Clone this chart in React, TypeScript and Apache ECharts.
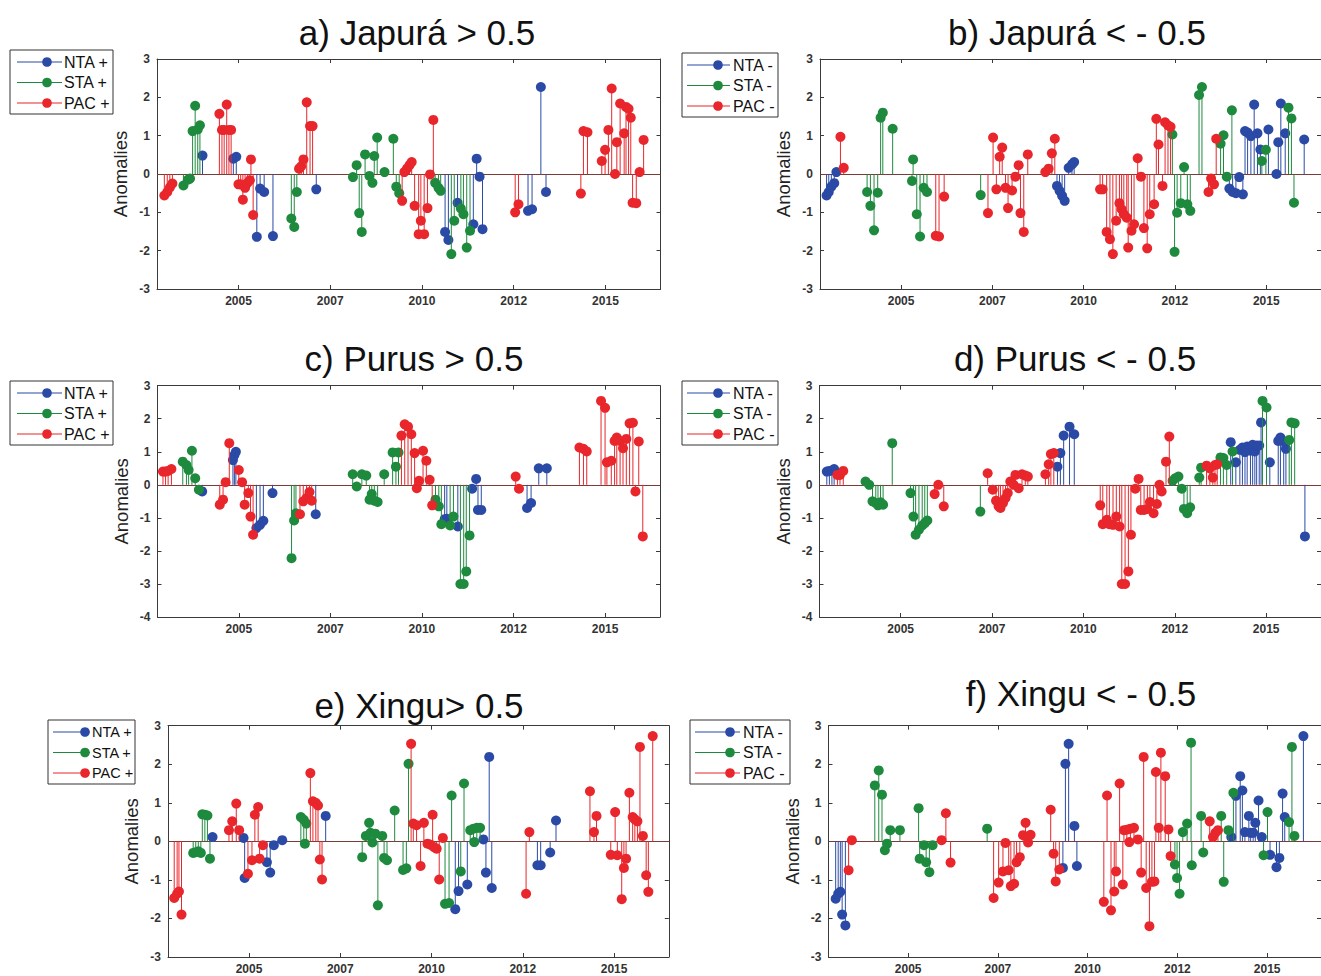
import React, { useEffect, useRef } from "react";
import * as echarts from "echarts";

type Pt = [number, number];

// x range shared by every panel (decimal years), ticks every 2.5 years
const X_MIN = 2002.78;
const X_MAX = 2016.5;
const X_TICKS = [2005, 2007.5, 2010, 2012.5, 2015];

const COLORS = { NTA: "#2a4aa6", STA: "#1e8a3e", PAC: "#e8262b" };
const BASELINE = "#7a3c37";

// a) Japurá > 0.5
const aNTA: Pt[] = [[2004.02,0.48],[2004.86,0.40],[2004.94,0.45],[2005.50,-1.64],[2005.59,-0.38],[2005.70,-0.47],[2005.94,-1.62],[2007.12,-0.40],[2010.63,-1.51],[2010.72,-1.72],[2010.97,-0.75],[2011.40,-1.31],[2011.49,0.40],[2011.57,-0.07],[2011.65,-1.44],[2012.89,-0.96],[2013.00,-0.92],[2013.24,2.27],[2013.38,-0.47]];
const aSTA: Pt[] = [[2003.50,-0.30],[2003.62,-0.15],[2003.68,-0.12],[2003.75,1.12],[2003.82,1.78],[2003.89,1.16],[2003.95,1.27],[2006.44,-1.16],[2006.52,-1.38],[2006.59,-0.47],[2008.12,-0.08],[2008.22,0.23],[2008.29,-1.02],[2008.36,-1.51],[2008.45,0.51],[2008.57,-0.05],[2008.65,-0.23],[2008.70,0.47],[2008.78,0.95],[2008.98,0.05],[2009.22,0.92],[2009.30,-0.33],[2009.38,-0.50],[2010.36,-0.23],[2010.45,-0.36],[2010.51,-0.44],[2010.80,-2.09],[2010.88,-1.22],[2011.06,-0.90],[2011.13,-1.05],[2011.22,-1.92],[2011.31,-1.48]];
const aPAC: Pt[] = [[2002.98,-0.56],[2003.06,-0.47],[2003.13,-0.35],[2003.20,-0.25],[2004.48,1.57],[2004.55,1.15],[2004.61,1.15],[2004.68,1.81],[2004.74,1.15],[2004.80,1.15],[2005.00,-0.27],[2005.06,-0.27],[2005.12,-0.67],[2005.18,-0.36],[2005.25,-0.23],[2005.31,-0.16],[2005.34,0.38],[2005.40,-1.07],[2006.65,0.14],[2006.71,0.20],[2006.77,0.38],[2006.86,1.87],[2006.95,1.25],[2007.02,1.25],[2009.46,-0.70],[2009.52,0.05],[2009.59,0.14],[2009.66,0.23],[2009.72,0.31],[2009.80,-0.83],[2009.91,-1.57],[2009.97,-1.22],[2010.06,-1.57],[2010.15,-0.89],[2010.22,-0.01],[2010.31,1.41],[2012.54,-1.00],[2012.63,-0.79],[2014.33,-0.51],[2014.40,1.12],[2014.51,1.09],[2014.90,0.34],[2014.99,0.63],[2015.08,1.15],[2015.17,2.23],[2015.26,0.00],[2015.31,0.83],[2015.40,1.84],[2015.51,1.06],[2015.56,1.75],[2015.63,1.70],[2015.69,1.47],[2015.74,-0.75],[2015.84,-0.76],[2015.93,0.05],[2016.04,0.89]];

// b) Japurá < -0.5
const bNTA: Pt[] = [[2002.96,-0.56],[2003.02,-0.47],[2003.09,-0.33],[2003.17,-0.24],[2003.23,0.05],[2009.27,-0.31],[2009.34,-0.44],[2009.41,-0.57],[2009.48,-0.70],[2009.59,0.16],[2009.68,0.25],[2009.74,0.31],[2013.99,-0.38],[2014.08,-0.47],[2014.17,-0.50],[2014.26,-0.08],[2014.36,-0.53],[2014.42,1.12],[2014.49,1.08],[2014.58,0.99],[2014.67,1.81],[2014.76,1.06],[2014.84,0.64],[2015.06,1.16],[2015.28,0.00],[2015.33,0.83],[2015.40,1.84],[2015.52,1.06],[2016.04,0.90]];
const bSTA: Pt[] = [[2004.07,-0.47],[2004.16,-0.83],[2004.26,-1.47],[2004.36,-0.49],[2004.44,1.47],[2004.50,1.60],[2004.77,1.18],[2005.30,-0.18],[2005.33,0.38],[2005.43,-1.05],[2005.52,-1.63],[2005.62,-0.36],[2005.71,-0.47],[2007.18,-0.55],[2012.43,1.03],[2012.49,-2.03],[2012.56,-1.01],[2012.66,-0.76],[2012.75,0.18],[2012.84,-0.79],[2012.92,-0.96],[2013.16,2.06],[2013.24,2.27],[2013.75,0.79],[2013.83,1.01],[2013.92,-0.07],[2014.06,1.66],[2014.88,0.34],[2014.99,0.63],[2015.61,1.73],[2015.69,1.45],[2015.76,-0.75]];
const bPAC: Pt[] = [[2003.34,0.97],[2003.43,0.16],[2005.95,-1.61],[2006.04,-1.63],[2006.18,-0.59],[2007.38,-1.02],[2007.52,0.95],[2007.61,-0.40],[2007.70,0.45],[2007.77,0.69],[2007.86,-0.36],[2007.93,-0.89],[2008.04,-0.43],[2008.13,-0.07],[2008.22,0.23],[2008.27,-1.02],[2008.36,-1.51],[2008.47,0.51],[2008.95,0.05],[2009.04,0.14],[2009.13,0.54],[2009.21,0.92],[2010.45,-0.40],[2010.52,-0.40],[2010.63,-1.51],[2010.72,-1.70],[2010.80,-2.09],[2010.89,-1.22],[2010.98,-0.76],[2011.04,-0.92],[2011.10,-1.05],[2011.18,-1.14],[2011.22,-1.92],[2011.31,-1.48],[2011.38,-1.31],[2011.48,0.41],[2011.57,-0.07],[2011.65,-1.41],[2011.74,-1.94],[2011.81,-1.05],[2011.93,-0.79],[2011.99,1.44],[2012.05,0.77],[2012.16,-0.31],[2012.23,1.35],[2012.31,1.27],[2012.38,1.23],[2013.42,-0.47],[2013.49,-0.12],[2013.57,-0.27],[2013.63,0.92]];

// c) Purus > 0.5
const cNTA: Pt[] = [[2004.00,-0.20],[2004.84,0.75],[2004.88,0.90],[2004.92,1.00],[2005.48,-1.31],[2005.58,-1.21],[2005.67,-1.09],[2005.92,-0.25],[2007.10,-0.89],[2010.62,-1.04],[2010.68,-1.03],[2010.98,-1.26],[2011.37,-0.12],[2011.48,0.18],[2011.53,-0.76],[2011.62,-0.76],[2012.87,-0.70],[2012.98,-0.55],[2013.19,0.50],[2013.41,0.50]];
const cSTA: Pt[] = [[2003.47,0.70],[2003.57,0.60],[2003.63,0.45],[2003.72,1.03],[2003.81,0.20],[2003.91,-0.15],[2006.44,-2.22],[2006.51,-1.08],[2006.56,-0.86],[2008.11,0.32],[2008.22,-0.05],[2008.36,0.32],[2008.48,0.28],[2008.57,-0.45],[2008.63,-0.28],[2008.70,-0.48],[2008.79,-0.52],[2008.97,0.32],[2009.20,0.98],[2009.29,0.55],[2009.36,0.98],[2010.37,-0.45],[2010.46,-0.65],[2010.53,-1.19],[2010.77,-1.23],[2010.86,-0.96],[2011.05,-3.00],[2011.14,-3.00],[2011.21,-2.62],[2011.30,-1.53]];
const cPAC: Pt[] = [[2002.93,0.40],[2003.00,0.40],[2003.07,0.42],[2003.16,0.48],[2004.48,-0.60],[2004.57,-0.45],[2004.64,0.08],[2004.74,1.26],[2005.00,0.45],[2005.09,0.08],[2005.16,-0.60],[2005.26,-0.25],[2005.32,-0.96],[2005.39,-1.51],[2006.67,-0.89],[2006.76,-0.50],[2006.85,-0.40],[2006.93,-0.22],[2006.99,-0.48],[2009.44,1.49],[2009.53,1.83],[2009.62,1.76],[2009.71,1.53],[2009.80,0.96],[2009.86,-0.10],[2009.92,0.12],[2010.03,1.03],[2010.12,0.73],[2010.21,0.15],[2010.28,-0.62],[2012.56,0.25],[2012.65,-0.12],[2014.30,1.13],[2014.41,1.09],[2014.50,1.01],[2014.89,2.54],[2015.00,2.33],[2015.05,0.68],[2015.17,0.73],[2015.26,1.33],[2015.32,1.43],[2015.41,1.33],[2015.49,1.11],[2015.58,1.39],[2015.67,1.86],[2015.76,1.88],[2015.83,-0.20],[2015.92,1.31],[2016.03,-1.56]];

// d) Purus < -0.5
const dNTA: Pt[] = [[2002.98,0.40],[2003.05,0.42],[2003.12,0.43],[2003.18,0.48],[2009.29,0.55],[2009.37,0.96],[2009.46,1.49],[2009.62,1.76],[2009.75,1.53],[2014.03,1.29],[2014.17,0.68],[2014.28,1.06],[2014.35,1.13],[2014.42,0.99],[2014.48,1.16],[2014.57,1.03],[2014.63,1.21],[2014.69,1.01],[2014.74,1.19],[2014.81,1.19],[2014.86,1.89],[2015.10,0.68],[2015.33,1.33],[2015.39,1.43],[2015.48,1.31],[2015.54,1.09],[2016.06,-1.56]];
const dSTA: Pt[] = [[2004.04,0.10],[2004.14,0.00],[2004.23,-0.50],[2004.32,-0.55],[2004.38,-0.62],[2004.45,-0.53],[2004.52,-0.60],[2004.77,1.26],[2005.27,-0.25],[2005.35,-0.96],[2005.41,-1.51],[2005.50,-1.36],[2005.59,-1.23],[2005.66,-1.16],[2005.73,-1.08],[2007.18,-0.81],[2012.44,0.12],[2012.51,0.20],[2012.60,0.25],[2012.69,-0.12],[2012.75,-0.73],[2012.84,-0.86],[2012.92,-0.68],[2013.17,0.22],[2013.22,0.52],[2013.75,0.83],[2013.83,0.81],[2013.92,0.60],[2014.08,1.01],[2014.90,2.54],[2015.01,2.34],[2015.63,1.36],[2015.69,1.89],[2015.78,1.86]];
const dPAC: Pt[] = [[2003.27,0.30],[2003.34,0.30],[2003.43,0.42],[2005.93,-0.28],[2006.03,0.00],[2006.18,-0.65],[2007.38,0.35],[2007.52,-0.15],[2007.61,-0.48],[2007.68,-0.65],[2007.73,-0.70],[2007.80,-0.55],[2007.87,-0.40],[2007.93,-0.25],[2008.00,0.10],[2008.09,0.00],[2008.14,0.30],[2008.23,-0.10],[2008.32,0.32],[2008.41,0.28],[2008.48,0.25],[2008.96,0.32],[2009.05,0.62],[2009.11,0.93],[2009.19,0.96],[2010.46,-0.62],[2010.53,-1.19],[2010.64,-1.06],[2010.71,-1.19],[2010.81,-1.21],[2010.90,-0.96],[2010.99,-1.26],[2011.05,-3.00],[2011.14,-3.00],[2011.23,-2.62],[2011.30,-1.51],[2011.42,-0.12],[2011.51,0.18],[2011.57,-0.76],[2011.66,-0.76],[2011.75,-0.73],[2011.82,-0.52],[2011.92,-0.86],[2012.01,-0.58],[2012.08,0.00],[2012.14,-0.20],[2012.26,0.70],[2012.35,1.46],[2013.37,0.58],[2013.46,0.50],[2013.54,0.22],[2013.60,0.60],[2013.66,0.62]];

// e) Xingu > 0.5
const eNTA: Pt[] = [[2004.00,0.11],[2004.85,0.09],[2004.88,-0.95],[2005.49,-0.54],[2005.58,-0.81],[2005.68,-0.10],[2005.91,0.03],[2007.10,0.66],[2010.65,-1.76],[2010.74,-1.29],[2010.98,-1.12],[2011.42,0.05],[2011.49,-0.81],[2011.58,2.19],[2011.65,-1.21],[2012.90,-0.62],[2012.99,-0.62],[2013.25,-0.29],[2013.41,0.54]];
const eSTA: Pt[] = [[2003.47,-0.30],[2003.54,-0.28],[2003.61,-0.26],[2003.68,-0.30],[2003.72,0.70],[2003.79,0.69],[2003.86,0.67],[2003.93,-0.45],[2006.42,0.63],[2006.50,0.56],[2006.53,-0.06],[2006.57,0.46],[2008.10,-0.41],[2008.20,0.14],[2008.29,0.48],[2008.33,0.22],[2008.38,-0.03],[2008.46,0.20],[2008.53,-1.66],[2008.65,0.14],[2008.70,-0.43],[2008.78,-0.49],[2008.99,0.80],[2009.22,-0.74],[2009.31,-0.70],[2009.37,2.01],[2010.37,-1.62],[2010.48,-1.60],[2010.55,1.19],[2010.80,-0.78],[2010.89,1.50],[2011.06,0.29],[2011.15,0.33],[2011.17,-0.02],[2011.24,0.35],[2011.33,0.35]];
const ePAC: Pt[] = [[2002.95,-1.47],[2003.03,-1.36],[2003.08,-1.30],[2003.15,-1.90],[2004.45,0.29],[2004.54,0.52],[2004.65,0.98],[2004.73,0.29],[2004.97,-0.84],[2005.08,-0.49],[2005.16,0.69],[2005.25,0.89],[2005.29,-0.45],[2005.38,-0.10],[2006.68,1.77],[2006.75,1.04],[2006.83,1.00],[2006.89,0.93],[2006.94,-0.47],[2007.00,-0.99],[2009.44,2.53],[2009.50,0.46],[2009.59,0.42],[2009.70,-0.64],[2009.79,0.48],[2009.89,-0.06],[2009.98,-0.09],[2010.03,0.69],[2010.07,-0.15],[2010.14,-0.19],[2010.21,-0.99],[2010.31,0.09],[2012.59,-1.36],[2012.68,0.24],[2014.34,1.30],[2014.45,0.24],[2014.52,0.66],[2014.91,-0.35],[2015.03,0.76],[2015.09,-0.36],[2015.21,-1.50],[2015.27,-0.69],[2015.33,-0.45],[2015.42,1.26],[2015.51,0.63],[2015.57,0.57],[2015.64,0.52],[2015.71,2.45],[2015.79,0.14],[2015.88,-0.88],[2015.94,-1.31],[2016.06,2.73]];

// f) Xingu < -0.5
const fNTA: Pt[] = [[2002.98,-1.49],[2003.05,-1.36],[2003.11,-1.31],[2003.16,-1.90],[2003.25,-2.18],[2009.31,-0.69],[2009.38,2.01],[2009.47,2.53],[2009.63,0.40],[2009.70,-0.64],[2014.00,0.11],[2014.13,1.18],[2014.25,1.69],[2014.31,1.32],[2014.38,0.24],[2014.49,0.66],[2014.54,0.22],[2014.61,0.22],[2014.67,0.48],[2014.76,1.06],[2014.85,0.11],[2015.08,-0.35],[2015.26,-0.67],[2015.34,-0.43],[2015.43,1.24],[2015.49,0.63],[2016.01,2.73]];
const fSTA: Pt[] = [[2004.07,1.45],[2004.18,1.84],[2004.27,1.21],[2004.35,-0.23],[2004.41,-0.06],[2004.50,0.29],[2004.77,0.29],[2005.29,0.86],[2005.32,-0.45],[2005.44,-0.10],[2005.50,-0.54],[2005.59,-0.80],[2005.68,-0.10],[2007.20,0.33],[2012.43,-0.60],[2012.49,-0.95],[2012.56,-1.36],[2012.65,0.24],[2012.77,0.46],[2012.88,2.56],[2012.90,-0.62],[2013.16,0.66],[2013.22,-0.29],[2013.72,0.66],[2013.79,-1.05],[2013.92,0.29],[2014.06,1.26],[2014.90,-0.36],[2015.01,0.76],[2015.61,0.50],[2015.69,2.45],[2015.76,0.14]];
const fPAC: Pt[] = [[2003.34,-0.75],[2003.43,0.03],[2005.93,0.03],[2006.05,0.73],[2006.18,-0.55],[2007.38,-1.47],[2007.52,-1.07],[2007.64,-0.78],[2007.71,-0.04],[2007.80,-0.75],[2007.86,-1.16],[2007.95,-1.10],[2008.02,-0.54],[2008.11,-0.41],[2008.20,0.16],[2008.27,0.48],[2008.34,-0.03],[2008.41,0.17],[2008.97,0.82],[2009.05,-0.32],[2009.11,-1.04],[2009.21,-0.73],[2010.45,-1.57],[2010.54,1.19],[2010.65,-1.79],[2010.74,-1.30],[2010.79,-0.78],[2010.89,1.50],[2010.98,-1.12],[2011.01,0.29],[2011.09,0.30],[2011.16,-0.02],[2011.19,0.33],[2011.29,0.35],[2011.40,0.05],[2011.49,-0.81],[2011.56,2.19],[2011.63,-1.21],[2011.72,-2.20],[2011.79,-1.05],[2011.86,-1.04],[2011.90,1.80],[2011.98,0.35],[2012.04,2.30],[2012.16,1.69],[2012.25,0.31],[2012.31,-0.38],[2013.40,0.52],[2013.49,0.11],[2013.56,0.22],[2013.63,0.29]];

const FONT = '"Liberation Sans", Arial, Helvetica, sans-serif';

// Layout of the six panels (pixels in the 1321 x 976 page)
const PANELS = [
  { title: "a) Japurá > 0.5", sign: "+", yMin: -3, data: [aNTA, aSTA, aPAC],
    grid: { left: 157, top: 59, width: 503.5, height: 230 }, titleAt: [417, 32],
    legend: { x: 10, y: 50, w: 103, line: [7, 52], dot: 37, text: 54, fs: 16 } },
  { title: "b) Japurá < - 0.5", sign: "-", yMin: -3, data: [bNTA, bSTA, bPAC],
    grid: { left: 820, top: 59, width: 503.5, height: 230 }, titleAt: [1077, 32],
    legend: { x: 682, y: 53, w: 96, line: [5, 48], dot: 36, text: 51, fs: 16 } },
  { title: "c) Purus > 0.5", sign: "+", yMin: -4, data: [cNTA, cSTA, cPAC],
    grid: { left: 157.5, top: 385.7, width: 502.5, height: 231.3 }, titleAt: [414, 358],
    legend: { x: 10, y: 381, w: 103, line: [7, 52], dot: 37, text: 54, fs: 16 } },
  { title: "d) Purus < - 0.5", sign: "-", yMin: -4, data: [dNTA, dSTA, dPAC],
    grid: { left: 819.5, top: 385.7, width: 502.5, height: 231.3 }, titleAt: [1075, 358],
    legend: { x: 682, y: 381, w: 96, line: [5, 48], dot: 36, text: 51, fs: 16 } },
  { title: "e) Xingu> 0.5", sign: "+", yMin: -3, data: [eNTA, eSTA, ePAC],
    grid: { left: 168, top: 725.7, width: 500.8, height: 231.3 }, titleAt: [419, 705],
    legend: { x: 48, y: 720, w: 87, line: [5, 42], dot: 37, text: 44, fs: 14.5 } },
  { title: "f) Xingu < - 0.5", sign: "-", yMin: -3, data: [fNTA, fSTA, fPAC],
    grid: { left: 828.5, top: 725.7, width: 503.5, height: 231.3 }, titleAt: [1081, 693],
    legend: { x: 690, y: 720, w: 100, line: [5, 50], dot: 40, text: 53, fs: 16 } },
];

const KEYS: ("NTA" | "STA" | "PAC")[] = ["NTA", "STA", "PAC"];

function stemRenderer(color: string) {
  return (params: any, api: any) => {
    const x = api.value(0);
    const v = api.value(1);
    const base = api.coord([x, 0]);
    const tip = api.coord([x, v]);
    return {
      type: "group",
      children: [
        { type: "line", shape: { x1: base[0], y1: base[1], x2: tip[0], y2: tip[1] },
          style: { stroke: color, lineWidth: 1 } },
        { type: "circle", shape: { cx: tip[0], cy: tip[1], r: 5 }, style: { fill: color } },
      ],
    };
  };
}

function buildOption() {
  const grid: any[] = [];
  const xAxis: any[] = [];
  const yAxis: any[] = [];
  const series: any[] = [];
  const graphic: any[] = [];
  const axisLine = { show: true, onZero: false, lineStyle: { color: "#3a3a3a", width: 1 } };
  const tickStyle = { color: "#3a3a3a", width: 1 };
  const tickLabel = { fontFamily: FONT, fontSize: 12, fontWeight: "bold", color: "#333" };

  PANELS.forEach((p, i) => {
    grid.push({ ...p.grid });
    xAxis.push({
      gridIndex: i, type: "value", min: X_MIN, max: X_MAX, position: "bottom",
      axisLine, splitLine: { show: false },
      axisTick: { show: true, inside: true, length: 4, customValues: X_TICKS, lineStyle: tickStyle },
      axisLabel: { ...tickLabel, customValues: X_TICKS, formatter: (v: number) => String(Math.floor(v)), margin: 6 },
    });
    xAxis.push({
      gridIndex: i, type: "value", min: X_MIN, max: X_MAX, position: "top",
      axisLine, splitLine: { show: false },
      axisTick: { show: true, inside: true, length: 4, customValues: X_TICKS, lineStyle: tickStyle },
      axisLabel: { show: false },
    });
    yAxis.push({
      gridIndex: i, type: "value", min: p.yMin, max: 3, interval: 1, position: "left",
      axisLine, splitLine: { show: false },
      axisTick: { show: true, inside: true, length: 4, lineStyle: tickStyle },
      axisLabel: { ...tickLabel, margin: 7 },
      name: "Anomalies", nameLocation: "middle", nameGap: 27, nameRotate: 90,
      nameTextStyle: { fontFamily: FONT, fontSize: 18.5, color: "#222" },
    });
    yAxis.push({
      gridIndex: i, type: "value", min: p.yMin, max: 3, interval: 1, position: "right",
      axisLine, splitLine: { show: false },
      axisTick: { show: true, inside: true, length: 4, lineStyle: tickStyle },
      axisLabel: { show: false },
    });

    KEYS.forEach((k, j) => {
      const s: any = {
        type: "custom",
        name: `${k} ${p.sign}`,
        xAxisIndex: i * 2,
        yAxisIndex: i * 2,
        data: p.data[j],
        encode: { x: 0, y: 1 },
        renderItem: stemRenderer(COLORS[k]),
        z: 2 + j,
      };
      if (j === 0) {
        s.markLine = {
          silent: true, symbol: "none", z: 1,
          label: { show: false },
          lineStyle: { color: BASELINE, width: 1.2, type: "solid" },
          data: [{ yAxis: 0 }],
        };
      }
      series.push(s);
    });

    // panel title
    graphic.push({
      type: "text", x: p.titleAt[0], y: p.titleAt[1], z: 10,
      style: { text: p.title, font: `35px ${FONT}`, fill: "#111",
        textAlign: "center", textVerticalAlign: "middle", align: "center", verticalAlign: "middle" },
    });

    // legend box
    const L = p.legend;
    const lh = 64;
    const items: any[] = [
      { type: "rect", shape: { x: 0, y: 0, width: L.w, height: lh },
        style: { fill: "#fff", stroke: "#333", lineWidth: 1 } },
    ];
    KEYS.forEach((k, j) => {
      const cy = 12 + j * 20.5;
      items.push({ type: "line", shape: { x1: L.line[0], y1: cy, x2: L.line[1], y2: cy },
        style: { stroke: COLORS[k], lineWidth: 1.2 } });
      items.push({ type: "circle", shape: { cx: L.dot, cy, r: 4.8 }, style: { fill: COLORS[k] } });
      items.push({ type: "text", x: L.text, y: cy,
        style: { text: `${k} ${p.sign}`, font: `${L.fs}px ${FONT}`, fill: "#111",
          textAlign: "left", textVerticalAlign: "middle", align: "left", verticalAlign: "middle" } });
    });
    graphic.push({ type: "group", x: L.x, y: L.y, z: 10, children: items });
  });

  return { animation: false, backgroundColor: "#fff", grid, xAxis, yAxis, series, graphic };
}

export default function App() {
  const ref = useRef<HTMLDivElement>(null);
  useEffect(() => {
    if (!ref.current) return;
    const chart = echarts.init(ref.current, undefined, { renderer: "svg" });
    chart.setOption(buildOption() as any);
    return () => chart.dispose();
  }, []);
  return (
    <div
      ref={ref}
      style={{ position: "fixed", left: 0, top: 0, width: 1321, height: 976, background: "#fff" }}
    />
  );
}
